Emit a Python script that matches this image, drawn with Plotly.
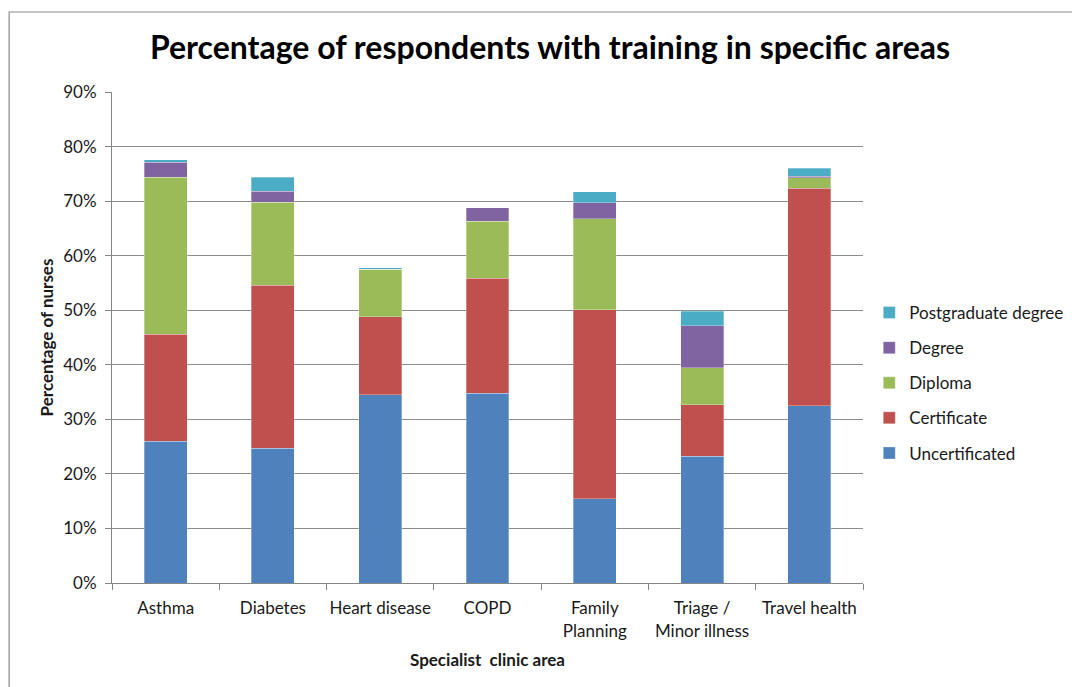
import plotly.graph_objects as go

categories = ["Asthma", "Diabetes", "Heart disease", "COPD", "Family<br>Planning",
              "Triage /<br>Minor illness", "Travel health"]
uncertificated = [26.0, 24.7, 34.5, 34.8, 15.4, 23.2, 32.5]
certificate = [19.6, 29.9, 14.3, 21.1, 34.7, 9.5, 39.9]
diploma = [28.8, 15.2, 8.7, 10.4, 16.7, 6.8, 1.9]
degree = [2.7, 2.0, 0.0, 2.5, 2.9, 7.7, 0.3]
postgraduate = [0.5, 2.6, 0.3, 0.0, 2.0, 2.6, 1.4]

series = [
    ("Uncertificated", uncertificated, "#4F81BD"),
    ("Certificate", certificate, "#C0504D"),
    ("Diploma", diploma, "#9BBB59"),
    ("Degree", degree, "#8064A2"),
    ("Postgraduate degree", postgraduate, "#4BACC6"),
]

FONT = "Lato"
W, H = 1072, 679
L, T = 104, 84
PW, PH = 752, 491

fig = go.Figure()
for i, (name, vals, col) in enumerate(series):
    fig.add_trace(go.Bar(
        x=categories, y=[v / 100 for v in vals], name=name, legendgroup=name,
        legendrank=len(series) - i,
        marker=dict(color=col, line=dict(color="rgba(255,255,255,0.6)", width=0.5)),
    ))

fig.update_layout(
    barmode="stack",
    bargap=0.6,
    width=W, height=H,
    margin=dict(l=L, r=W - L - PW, t=T, b=H - T - PH),
    paper_bgcolor="white", plot_bgcolor="white",
    font=dict(family=FONT, size=17, color="#1a1a1a"),
    title=dict(text="<b>Percentage of respondents with training in specific areas</b>",
               x=542 / W, xanchor="center", y=1 - 40 / H, yanchor="middle",
               font=dict(family=FONT, size=32, color="black")),
    legend=dict(traceorder="grouped", tracegroupgap=10,
                x=1.007, xanchor="left", y=(PH - (375 - T)) / PH, yanchor="middle",
                font=dict(family=FONT, size=17, color="#1a1a1a")),
    xaxis=dict(showline=True, linecolor="#868686", linewidth=1,
               ticks="outside", tickson="boundaries", ticklen=6, tickcolor="#868686",
               tickfont=dict(size=17), tickangle=0, ticklabelstandoff=10,
               automargin=False, fixedrange=True,
               title=dict(text="<b>Specialist  clinic area</b>", standoff=14,
                          font=dict(size=17))),
    yaxis=dict(range=[0, 0.9], dtick=0.1, tickformat=".0%",
               showline=True, linecolor="#868686", linewidth=1,
               showgrid=True, gridcolor="#8c8c8c", gridwidth=1,
               ticks="outside", ticklen=6, tickcolor="#868686",
               tickfont=dict(size=17), zeroline=False, automargin=False,
               ticklabelstandoff=5,
               title=dict(text="<b>Percentage of nurses</b>", standoff=5,
                          font=dict(size=17))),
    shapes=[dict(type="rect", xref="paper", yref="paper",
                 x0=(1 - L) / PW, x1=1.5, y0=-0.5, y1=(T + PH - 4) / PH,
                 line=dict(color="#8a8a8a", width=1.2), fillcolor="rgba(0,0,0,0)",
                 layer="below")],
)

fig.write_html("out.html")
